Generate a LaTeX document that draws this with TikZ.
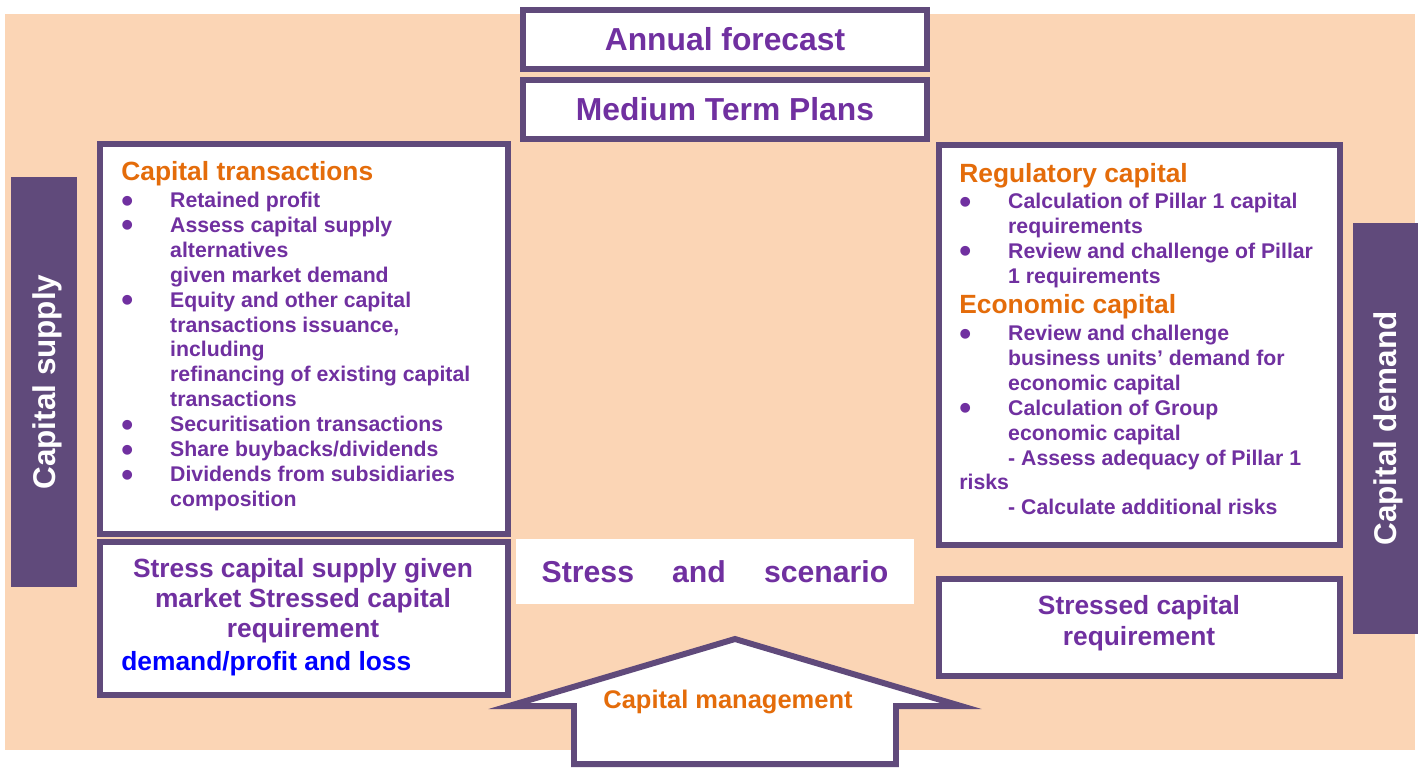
\documentclass[tikz,border=0pt]{standalone}
\usepackage{fontspec}
\setmainfont{Liberation Sans}
\usepackage{graphicx}
\usepackage{tikz}
\usetikzlibrary{positioning,fit}

\definecolor{peach}{HTML}{FBD5B5}
\definecolor{framePurple}{HTML}{604A7B}
\definecolor{textPurple}{HTML}{7030A0}
\definecolor{headOrange}{HTML}{E46C0A}
\definecolor{lossBlue}{HTML}{0000FF}

\newcommand{\bl}{\makebox[27.8pt][l]{\raisebox{-2.7pt}{\scalebox{1.6}{\textbullet}}}}
\newcommand{\ind}{\hspace*{27.8pt}}

\begin{document}
\begin{tikzpicture}[x=0.02cm, y=-0.02cm]
			\tikzstyle{Frame}	= [draw=framePurple, line width=3.4pt, fill=white, inner sep=0pt]
			\tikzstyle{Bar}		= [fill=framePurple, inner sep=0pt]
			\tikzstyle{Plain}	= [fill=white, inner sep=0pt]
			\tikzstyle{Title}	= [text=textPurple, font=\fontsize{18.1}{20}\selectfont\bfseries]
			\tikzstyle{Side}	= [text=white, rotate=90, font=\fontsize{17.9}{20}\selectfont\bfseries]
			\tikzstyle{Head}	= [text=headOrange, inner sep=0pt, anchor=north west, font=\fontsize{15}{17}\selectfont\bfseries]
			\tikzstyle{List}	= [text=textPurple, inner sep=0pt, anchor=north west, align=left, font=\fontsize{12.1}{14.2}\selectfont\bfseries]
			\tikzstyle{Stress}	= [text=textPurple, inner sep=0pt, anchor=north, align=center, font=\fontsize{15}{17.3}\selectfont\bfseries]

			\useasboundingbox (0,0) rectangle (1420,769);
			\fill [peach] (5,14) rectangle (1415,750);

			% top boxes
			\node (annual) [Frame][fit={(523,10) (927,69)}] {};
			\node (mtp) [Frame][fit={(523,80) (927,139)}] {};
			\node (annualText) at (annual.center) [Title] {Annual forecast};
			\node (mtpText) at (mtp.center) [Title] {Medium Term Plans};

			% side bars
			\node (supplyBar) [Bar][fit={(11,177) (77,587)}] {};
			\node (demandBar) [Bar][fit={(1353,223) (1418,634)}] {};
			\node (supplyText) at ([xshift=1.7pt]supplyBar.center) [Side] {Capital supply};
			\node (demandText) at ([xshift=1.7pt]demandBar.center) [Side] {Capital demand};

			% capital supply side
			\node (ctBox) [Frame][fit={(100,144) (508,534)}] {};
			\node (ctHead) at (121,160.7) [Head] {Capital transactions};
			\node (ctList) at (121,191.5) [List] {\bl Retained profit\\
				\bl Assess capital supply\\
				\ind alternatives\\
				\ind given market demand\\
				\bl Equity and other capital\\
				\ind transactions issuance,\\
				\ind including\\
				\ind refinancing of existing capital\\
				\ind transactions\\
				\bl Securitisation transactions\\
				\bl Share buybacks/dividends\\
				\bl Dividends from subsidiaries\\
				\ind composition};

			\node (ssBox) [Frame][fit={(100,542) (508,695)}] {};
			\node (ssText) at (303,557.7) [Stress] {Stress capital supply given\\market Stressed capital\\requirement};
			\node (lossText) at (121,650.7) [Head, text=lossBlue] {demand/profit and loss};

			% capital demand side
			\node (regBox) [Frame][fit={(939,145) (1340,545)}] {};
			\node (regHead) at (959,162.7) [Head] {Regulatory capital};
			\node (regList) at (959,192.5) [List] {\bl Calculation of Pillar 1 capital\\
				\ind requirements\\
				\bl Review and challenge of Pillar\\
				\ind 1 requirements};
			\node (ecoHead) at (959,293.7) [Head] {Economic capital};
			\node (ecoList) at (959,324.5) [List] {\bl Review and challenge\\
				\ind business units’ demand for\\
				\ind economic capital\\
				\bl Calculation of Group\\
				\ind economic capital\\
				\ind - Assess adequacy of Pillar 1\\
				risks\\
				\ind - Calculate additional risks};

			\node (scrBox) [Frame][fit={(939,579) (1340,676)}] {};
			\node (scrText) at (1139,594.7) [Stress, font=\fontsize{15}{18.1}\selectfont\bfseries] {Stressed capital\\requirement};

			% centre
			\node (stress) [Plain][fit={(516,539) (914,604)}] {};
			\node (stressText) at (stress.center) [text=textPurple, font=\fontsize{17.2}{20}\selectfont\bfseries] {\makebox[197.3pt][s]{Stress\hfill and\hfill scenario}};
			\draw [Frame] (735,639) -- (961,706) -- (896,706) -- (896,764) -- (574,764) -- (574,706) -- (509,706) -- cycle;
			\node (capMgmt) at (728,708) [anchor=base, text=headOrange, font=\fontsize{14.5}{17}\selectfont\bfseries] {Capital management};
		\end{tikzpicture}
\end{document}
